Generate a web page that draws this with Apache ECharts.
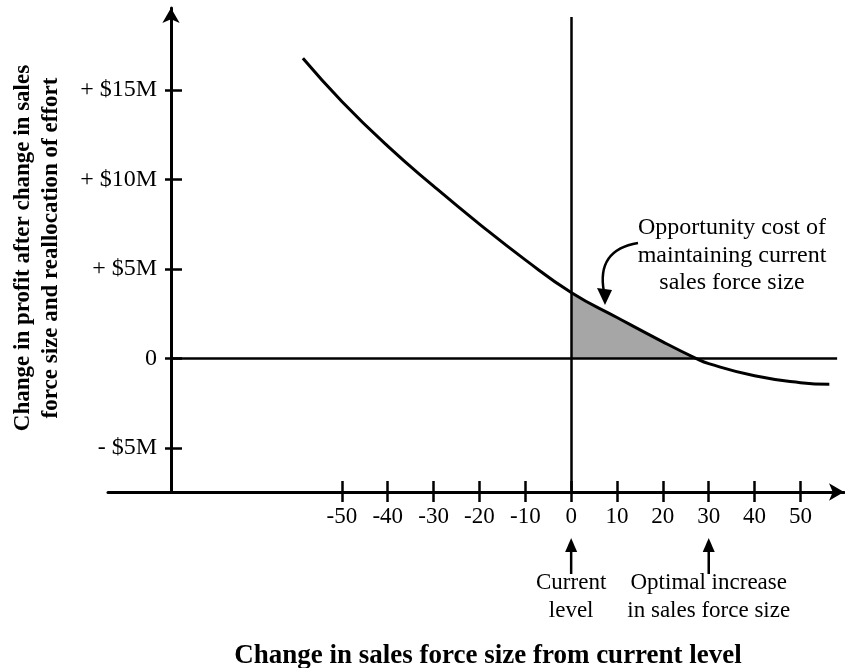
<!DOCTYPE html>
<html><head><meta charset="utf-8">
<script src="https://cdn.jsdelivr.net/npm/echarts@6/dist/echarts.min.js"></script>
<style>html,body{margin:0;padding:0;background:#fff}#c{width:845px;height:668px}</style>
</head><body><div id="c"></div>
<script>
// ---- data ----
const curveX = [-58.5, -50, -40, -30, -20, -10, 0, 10, 20, 27.2, 30, 40, 50, 56.3];
const curveY = [16.76, 14.35, 11.85, 9.62, 7.5, 5.5, 3.68, 2.28, 0.92, 0, -0.3, -0.98, -1.36, -1.45];
const xTickValues = [-50, -40, -30, -20, -10, 0, 10, 20, 30, 40, 50];
const yTickValues = [-5, 0, 5, 10, 15];
const yTickLabels = ['- $5M', '0', '+ $5M', '+ $10M', '+ $15M'];
const shadedRange = [0, 27.2];
const markerValues = [0, 30];
const markerLabels = ['Current\nlevel', 'Optimal increase\nin sales force size'];
const noteText = 'Opportunity cost of\nmaintaining current\nsales force size';
const xTitle = 'Change in sales force size from current level';
const yTitle = 'Change in profit after change in sales\nforce size and reallocation of effort';

// ---- axis extents / reference lines (data units) ----
const xMin = -101, xMax = 59.5;
const yMin = -7.47, yMax = 19.57;
const yAxisAtX = -87.2;      // where the vertical profit axis crosses the x scale
const zeroLineEnd = 58;
const currentLineTop = 19.07;

const FONT = '"Liberation Serif", "Times New Roman", serif';
const pts = curveX.map((x, i) => [x, curveY[i]]);

const option = {
  animation: false,
  backgroundColor: '#fff',
  grid: { left: 108, right: 1, top: 8, bottom: 176, containLabel: false },
  xAxis: [
    {
      type: 'value', min: xMin, max: xMax, position: 'bottom',
      axisLine: { show: true, onZero: false, symbol: ['none', 'arrow'], symbolSize: [13, 15],
        lineStyle: { color: '#000', width: 3 } },
      axisTick: { show: true, inside: false, length: 10, customValues: xTickValues,
        lineStyle: { color: '#000', width: 2.5 } },
      axisLabel: { show: true, customValues: xTickValues, margin: 13,
        fontFamily: FONT, fontSize: 23, color: '#000' },
      splitLine: { show: false }
    },
    {
      type: 'value', min: xMin, max: xMax, position: 'bottom',
      axisLine: { show: false, onZero: false },
      axisTick: { show: true, inside: true, length: 11, customValues: xTickValues,
        lineStyle: { color: '#000', width: 2.5 } },
      axisLabel: { show: false },
      splitLine: { show: false }
    }
  ],
  yAxis: [
    {
      type: 'value', min: yMin, max: yMax, position: 'left', offset: -63,
      axisLine: { show: true, onZero: false, symbol: ['none', 'arrow'], symbolSize: [13, 15],
        lineStyle: { color: '#000', width: 3 } },
      axisTick: { show: true, inside: false, length: 6, customValues: yTickValues,
        lineStyle: { color: '#000', width: 2.5 } },
      axisLabel: { show: true, customValues: yTickValues, margin: 14,
        fontFamily: FONT, fontSize: 24, color: '#000',
        formatter: v => { const i = yTickValues.indexOf(v); return i >= 0 ? yTickLabels[i] : ''; } },
      splitLine: { show: false }
    },
    {
      type: 'value', min: yMin, max: yMax, position: 'left', offset: -63,
      axisLine: { show: false, onZero: false },
      axisTick: { show: true, inside: true, length: 11, customValues: yTickValues,
        lineStyle: { color: '#000', width: 2.5 } },
      axisLabel: { show: false },
      splitLine: { show: false }
    }
  ],
  visualMap: {
    type: 'piecewise', show: false, dimension: 0, seriesIndex: 0,
    pieces: [{ gte: shadedRange[0], lte: shadedRange[1], color: '#a6a6a6' }],
    outOfRange: { color: 'rgba(0,0,0,0)' }
  },
  series: [
    {
      type: 'line', data: pts, smooth: true, symbol: 'none', silent: true, z: 2,
      lineStyle: { width: 0, opacity: 0 },
      areaStyle: { opacity: 1 }
    },
    {
      type: 'line', data: pts, smooth: true, symbol: 'none', silent: true, z: 4,
      lineStyle: { color: '#000', width: 3 },
      itemStyle: { color: '#000' }
    },
    {
      type: 'line', data: [], silent: true, z: 3,
      markLine: {
        silent: true, symbol: ['none', 'none'], label: { show: false },
        lineStyle: { color: '#000', width: 2.5, type: 'solid' },
        data: [
          [{ coord: [yAxisAtX, 0] }, { coord: [zeroLineEnd, 0] }],
          [{ coord: [0, currentLineTop] }, { coord: [0, yMin] }]
        ]
      }
    }
  ]
};

const chart = echarts.init(document.getElementById('c'));
chart.setOption(option);

const g = [];
markerValues.forEach((v, i) => {
  const px = chart.convertToPixel({ xAxisIndex: 0 }, v);
  g.push({ type: 'line', silent: true, shape: { x1: px, y1: 574, x2: px, y2: 548 },
    style: { stroke: '#000', lineWidth: 2.5 } });
  g.push({ type: 'polygon', silent: true, shape: { points: [[px - 6, 552], [px + 6, 552], [px, 538]] },
    style: { fill: '#000' } });
  g.push({ type: 'text', silent: true, x: px, y: 569,
    style: { text: markerLabels[i], fontFamily: FONT, fontSize: 23, lineHeight: 28,
      textAlign: 'center', textVerticalAlign: 'top', fill: '#000' } });
});
// opportunity cost note and its curved arrow
g.push({ type: 'text', silent: true, x: 732, y: 214,
  style: { text: noteText, fontFamily: FONT, fontSize: 24, lineHeight: 27.5,
    textAlign: 'center', textVerticalAlign: 'top', fill: '#000' } });
g.push({ type: 'bezierCurve', silent: true,
  shape: { x1: 638, y1: 243, cpx1: 596, cpy1: 250, x2: 604, y2: 292 },
  style: { stroke: '#000', lineWidth: 2.5, fill: 'none' } });
g.push({ type: 'polygon', silent: true, shape: { points: [[597, 288], [612, 290], [605, 305]] },
  style: { fill: '#000' } });
// axis titles
g.push({ type: 'text', silent: true, x: 488, y: 656,
  style: { text: xTitle, fontFamily: FONT, fontSize: 27, fontWeight: 'bold',
    textAlign: 'center', textVerticalAlign: 'middle', fill: '#000' } });
g.push({ type: 'text', silent: true, x: 37, y: 248, rotation: Math.PI / 2,
  style: { text: yTitle, fontFamily: FONT, fontSize: 23, fontWeight: 'bold', lineHeight: 27.5,
    textAlign: 'center', textVerticalAlign: 'middle', fill: '#000' } });
chart.setOption({ graphic: g });
</script>
</body></html>
